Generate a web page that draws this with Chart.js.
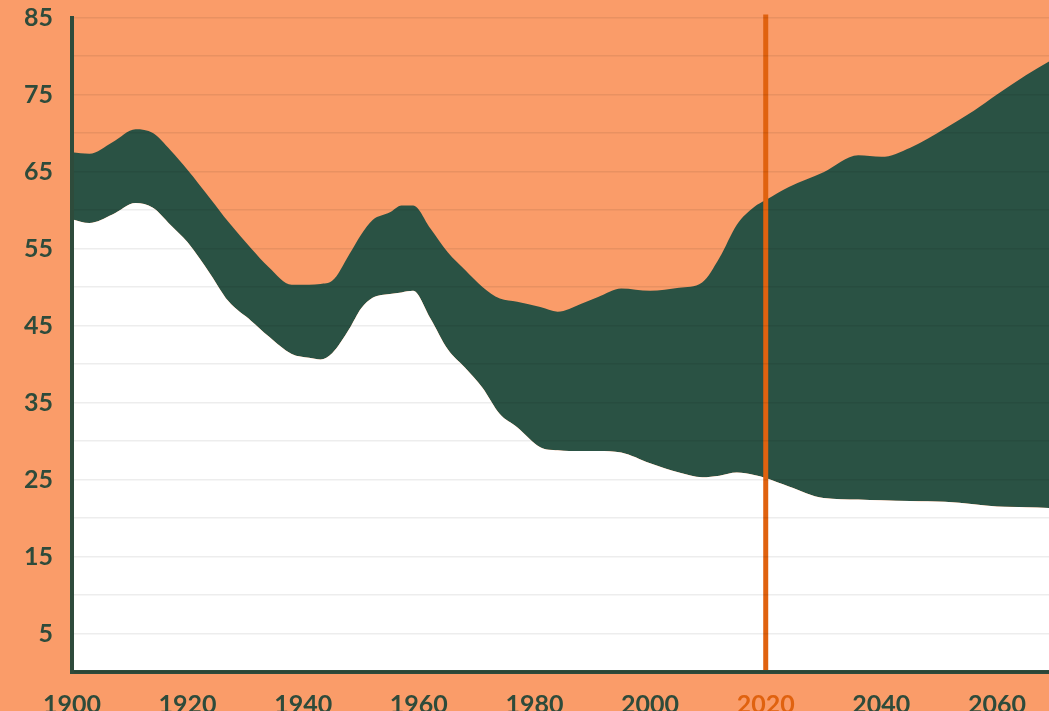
<!DOCTYPE html>
<html lang="en">
<head>
<meta charset="UTF-8">
<title>Chart</title>
<script src="https://cdn.jsdelivr.net/npm/chart.js"></script>
<style>
    body { margin: 0; background: #FA9C69; }
    canvas { display: block; }
</style>
</head>
<body>
<canvas id="grafico" width="1049" height="711"></canvas>

<script>
    // dados
    const anos = [1900, 1903, 1907, 1911, 1914, 1917, 1920, 1924, 1927, 1931, 1934, 1938, 1941, 1943, 1945,
        1948, 1950, 1952, 1955, 1957, 1959, 1962, 1965, 1968, 1971, 1974, 1977, 1981, 1984, 1988, 1991,
        1995, 2000, 2005, 2009, 2012, 2015, 2018, 2020, 2024, 2030, 2036, 2040, 2045, 2051, 2056, 2060, 2065, 2069];

    const superior = [67.5, 67.3, 68.8, 70.5, 70.0, 67.8, 65.2, 61.4, 58.5, 55.0, 52.6, 50.3, 50.3, 50.4, 50.8,
        54.3, 56.8, 58.7, 59.7, 60.6, 60.6, 57.6, 54.5, 52.2, 50.0, 48.5, 48.1, 47.4, 46.8, 47.8, 48.7,
        49.8, 49.5, 49.9, 50.6, 53.8, 58.1, 60.4, 61.3, 63.0, 64.9, 67.1, 66.9, 68.1, 70.6, 72.9, 75.0, 77.5, 79.3];

    const inferior = [58.8, 58.3, 59.4, 60.9, 60.3, 58.1, 55.8, 51.6, 48.2, 45.6, 43.6, 41.3, 40.8, 40.6, 41.4,
        44.6, 47.2, 48.6, 49.1, 49.3, 49.5, 45.9, 41.9, 39.5, 36.9, 33.5, 31.8, 29.2, 28.8, 28.7, 28.7,
        28.5, 27.1, 25.9, 25.3, 25.5, 25.9, 25.6, 25.2, 24.1, 22.6, 22.4, 22.3, 22.2, 22.1, 21.8, 21.5, 21.4, 21.3];

    const anoMarcado = 2020;

    const verde = '#2A5244';
    const verdeTexto = '#2E4B3B';
    const laranjaForte = '#E0620F';

    // linha vertical do ano atual
    const linhaAno = {
        id: 'linhaAno',
        afterDatasetsDraw(chart) {
            const ctx = chart.ctx;
            const x = chart.scales.x.getPixelForValue(anoMarcado);
            ctx.save();
            ctx.strokeStyle = laranjaForte;
            ctx.lineWidth = 5;
            ctx.beginPath();
            ctx.moveTo(x, chart.chartArea.top - 3);
            ctx.lineTo(x, chart.chartArea.bottom);
            ctx.stroke();
            ctx.restore();
        }
    };

    const fonte = { family: 'Lato', size: 25, weight: 'bold' };

    new Chart(document.getElementById('grafico'), {
        type: 'line',
        data: {
            datasets: [
                {
                    label: 'inferior',
                    data: anos.map((a, i) => ({ x: a, y: inferior[i] })),
                    borderWidth: 0,
                    pointRadius: 0,
                    fill: 'origin',
                    backgroundColor: '#FFFFFF',
                    cubicInterpolationMode: 'monotone'
                },
                {
                    label: 'superior',
                    data: anos.map((a, i) => ({ x: a, y: superior[i] })),
                    borderWidth: 0,
                    pointRadius: 0,
                    fill: '-1',
                    backgroundColor: verde,
                    cubicInterpolationMode: 'monotone'
                }
            ]
        },
        options: {
            responsive: false,
            animation: false,
            layout: { padding: { top: 17.5, right: 0, left: 0, bottom: 0 } },
            plugins: {
                legend: { display: false },
                tooltip: { enabled: false }
            },
            scales: {
                x: {
                    type: 'linear',
                    min: 1900,
                    max: 2069,
                    afterFit: (s) => { s.height = 39; },
                    grid: { display: false },
                    border: { color: verdeTexto, width: 4, z: 1 },
                    ticks: {
                        stepSize: 20,
                        includeBounds: false,
                        padding: 10,
                        maxRotation: 0,
                        callback: (v) => String(v),
                        color: (c) => c.tick.value === anoMarcado ? laranjaForte : verdeTexto,
                        font: fonte
                    }
                },
                y: {
                    min: 0,
                    max: 85,
                    afterFit: (s) => { s.width = 72; s.paddingTop = 0; s.paddingBottom = 0; },
                    grid: { color: 'rgba(0,0,0,0.07)', lineWidth: 1.5, drawTicks: false, z: 1 },
                    border: { color: verdeTexto, width: 4, z: 2 },
                    ticks: {
                        stepSize: 5,
                        padding: 19,
                        callback: (v) => v % 10 === 5 ? String(v) : '',
                        color: verdeTexto,
                        font: fonte
                    }
                }
            }
        },
        plugins: [linhaAno]
    });
</script>
</body>
</html>
